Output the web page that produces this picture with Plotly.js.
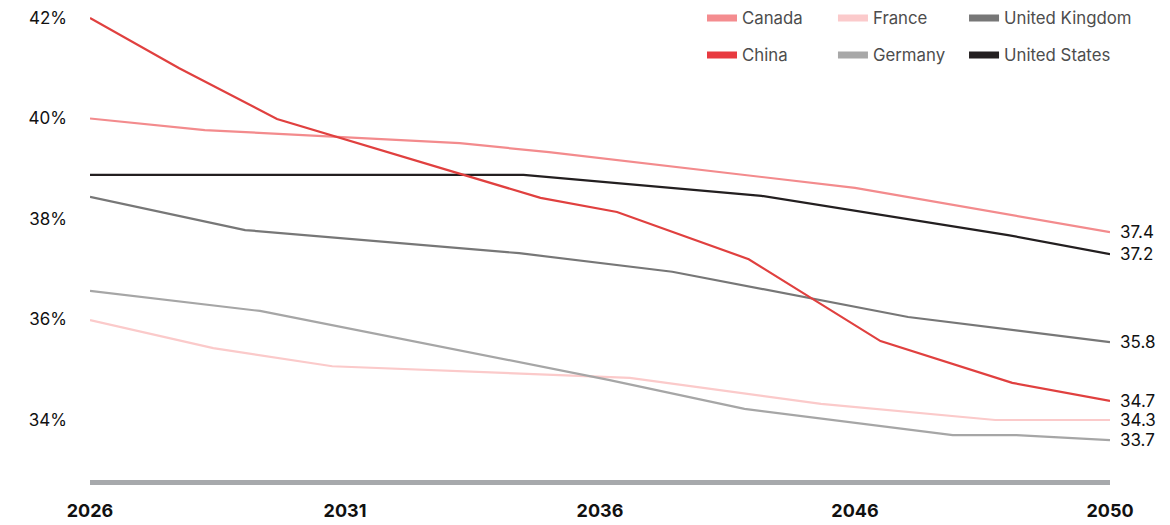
<!DOCTYPE html>
<html>
<head>
<meta charset="utf-8">
<script src="https://cdn.plot.ly/plotly-3.0.1.min.js"></script>
<style>
  html, body { margin: 0; padding: 0; background: #ffffff; }
  #chart { width: 1170px; height: 525px; }
</style>
</head>
<body>
<div id="chart"></div>
<script>
// ---- data ----
var countries = ['Canada', 'France', 'United Kingdom', 'China', 'Germany', 'United States'];

var canadaYears = [2026, 2028.7, 2034.7, 2036.8, 2044.0, 2050];
var canadaValues = [40.0, 39.77, 39.51, 39.33, 38.62, 37.74];

var chinaYears = [2026, 2028.1, 2030.4, 2036.6, 2038.4, 2041.5, 2044.6, 2047.7, 2050];
var chinaValues = [42.0, 41.0, 39.99, 38.42, 38.14, 37.20, 35.57, 34.74, 34.38];

var franceYears = [2026, 2028.9, 2031.7, 2038.7, 2043.2, 2047.3, 2050];
var franceValues = [35.99, 35.43, 35.07, 34.84, 34.32, 34.0, 34.0];

var germanyYears = [2026, 2030.0, 2038.2, 2041.4, 2046.3, 2047.8, 2050];
var germanyValues = [36.57, 36.17, 34.80, 34.22, 33.70, 33.70, 33.60];

var ukYears = [2026, 2029.65, 2036.1, 2039.7, 2045.25, 2050];
var ukValues = [38.44, 37.78, 37.32, 36.95, 36.05, 35.55];

var usYears = [2026, 2036.2, 2041.8, 2047.6, 2050];
var usValues = [38.88, 38.88, 38.46, 37.68, 37.30];

var endLabels = { 'Canada': '37.4', 'China': '34.7', 'France': '34.3', 'Germany': '33.7', 'United Kingdom': '35.8', 'United States': '37.2' };

var xTickVals = [2026, 2032, 2038, 2044, 2050];
var xTickText = ['2026', '2031', '2036', '2046', '2050'];
var yTickVals = [34, 36, 38, 40, 42];
var yTickText = ['34%', '36%', '38%', '40%', '42%'];

// ---- styles ----
var colors = {
  'Canada': '#f38b8d',
  'China': '#e0403f',
  'France': '#fbcaca',
  'Germany': '#a6a6a6',
  'United Kingdom': '#777777',
  'United States': '#231f20'
};
var legendColors = {
  'Canada': '#f48c8f',
  'China': '#e83a40',
  'France': '#fbcacb',
  'Germany': '#a8a8a8',
  'United Kingdom': '#777777',
  'United States': '#231f20'
};

var series = {
  'Canada': [canadaYears, canadaValues],
  'China': [chinaYears, chinaValues],
  'France': [franceYears, franceValues],
  'Germany': [germanyYears, germanyValues],
  'United Kingdom': [ukYears, ukValues],
  'United States': [usYears, usValues]
};

var FONT = 'Inter, "Noto Sans", sans-serif';
var traces = [];
var annotations = [];
var drawOrder = ['France', 'Germany', 'United Kingdom', 'Canada', 'United States', 'China'];
drawOrder.forEach(function (name) {
  var d = series[name];
  traces.push({
    type: 'scatter', mode: 'lines', name: name,
    x: d[0], y: d[1],
    line: { color: colors[name], width: 2.2 },
    showlegend: false, hoverinfo: 'skip'
  });
  annotations.push({
    x: d[0][d[0].length - 1], y: d[1][d[1].length - 1],
    xref: 'x', yref: 'y', text: endLabels[name],
    showarrow: false, xanchor: 'left', yanchor: 'middle', xshift: 8,
    font: { family: FONT, size: 17, color: '#111111' }
  });
});

// legend: one legend box per entry, laid out as 3 columns x 2 rows
var legendX = [0.6, 0.7284, 0.8569];
var legendY = [0.9957, 0.916];
var layout = {
  width: 1170, height: 525,
  margin: { l: 90, r: 60, t: 16, b: 45, autoexpand: false },
  paper_bgcolor: '#ffffff', plot_bgcolor: '#ffffff',
  showlegend: true,
  xaxis: {
    range: [2026, 2050],
    tickvals: xTickVals, ticktext: xTickText,
    showgrid: false, zeroline: false,
    showline: true, linecolor: '#a7a9ac', linewidth: 5,
    ticks: '', ticklabelstandoff: 10,
    tickfont: { family: FONT, size: 18, color: '#111111', weight: 700 }
  },
  yaxis: {
    range: [32.806, 42.04],
    tickvals: yTickVals, ticktext: yTickText,
    showgrid: false, zeroline: false, showline: false,
    ticks: '', ticklabelstandoff: 22,
    tickfont: { family: FONT, size: 17, color: '#111111' }
  },
  annotations: annotations
};

countries.forEach(function (name, i) {
  var key = i === 0 ? 'legend' : 'legend' + (i + 1);
  traces.push({
    type: 'scatter', mode: 'lines', name: name,
    x: [null], y: [null],
    line: { color: legendColors[name], width: 7 },
    showlegend: true, hoverinfo: 'skip',
    legend: key
  });
  layout[key] = {
    orientation: 'h', xanchor: 'left', yanchor: 'middle',
    x: legendX[i % 3], y: legendY[Math.floor(i / 3)],
    font: { family: FONT, size: 16.8, color: '#4d4d4d' },
    bgcolor: 'rgba(0,0,0,0)', borderwidth: 0,
    itemwidth: 30, itemclick: false, itemdoubleclick: false
  };
});

Plotly.newPlot('chart', traces, layout, { displayModeBar: false, staticPlot: true });
</script>
</body>
</html>
